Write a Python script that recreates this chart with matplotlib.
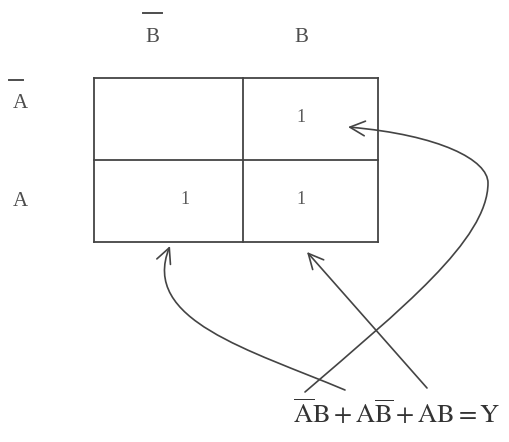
import numpy as np
import matplotlib
matplotlib.use("Agg")
import matplotlib.pyplot as plt
from matplotlib.patches import FancyArrowPatch
from matplotlib.path import Path

plt.rcParams["mathtext.fontset"] = "stix"
plt.rcParams["font.family"] = "Liberation Serif"

# K-map data
row_labels = ["A", "A"]          # first one is complemented (A bar)
row_bars = [True, False]
col_labels = ["B", "B"]          # first one is complemented (B bar)
col_bars = [True, False]
cells = [[0, 1],
         [1, 1]]
equation = r"$\overline{\mathrm{A}}\mathrm{B}+\mathrm{A}\overline{\mathrm{B}}+\mathrm{AB}=\mathrm{Y}$"

# layout in pixels
W, H = 509, 442
col_edges = [94, 243, 378]
row_edges = [78, 160, 242]
col_label_x = [152, 301]
row_label_y = [103, 201]
cell_x = [185, 301]
ink = "#444444"
txt = "#4d4d4d"

fig = plt.figure(figsize=(W / 100, H / 100), dpi=100)
ax = fig.add_axes([0, 0, 1, 1])
ax.set_xlim(0, W)
ax.set_ylim(H, 0)
ax.axis("off")

# grid
for x in col_edges:
    ax.plot([x, x], [row_edges[0], row_edges[-1]], color=ink, lw=1.3)
for y in row_edges:
    ax.plot([col_edges[0], col_edges[-1]], [y, y], color=ink, lw=1.3)

# column headers
for cx, lab, bar in zip(col_label_x, col_labels, col_bars):
    ax.text(cx, 37, lab, ha="center", va="center", fontsize=15, color=txt)
    if bar:
        ax.plot([cx - 9, cx + 10], [13, 13], color=txt, lw=1.4)

# row headers
for cy, lab, bar in zip(row_label_y, row_labels, row_bars):
    ax.text(20, cy, lab, ha="center", va="center", fontsize=15, color=txt)
    if bar:
        ax.plot([9, 23], [cy - 23, cy - 23], color=txt, lw=1.4)

# cell values
for i in range(2):
    for j in range(2):
        if cells[i][j]:
            cy = (row_edges[i] + row_edges[i + 1]) / 2 - 2
            ax.text(cell_x[j], cy, str(cells[i][j]), ha="center", va="center",
                    fontsize=13, color="#5a5a5a")

# equation
ax.text(397, 413, equation, ha="center", va="center", fontsize=19, color="#333333")

# arrows
style = "->,head_length=0.45,head_width=0.22"
p1 = Path([(305, 392), (400, 310), (488, 240), (488, 183),
           (488, 160), (440, 135), (348, 127)],
          [Path.MOVETO, Path.CURVE4, Path.CURVE4, Path.CURVE4,
           Path.CURVE4, Path.CURVE4, Path.CURVE4])
p2 = Path([(345, 390), (250, 350), (140, 320), (170, 246)],
          [Path.MOVETO, Path.CURVE4, Path.CURVE4, Path.CURVE4])
for p in (p1, p2):
    ax.add_patch(FancyArrowPatch(path=p, arrowstyle=style, mutation_scale=24,
                                 color=ink, lw=1.2))
ax.add_patch(FancyArrowPatch((427, 388), (307, 252), arrowstyle=style,
                             mutation_scale=24, color=ink, lw=1.2,
                             shrinkA=0, shrinkB=0))

fig.savefig("out.png", dpi=100, facecolor="white")
